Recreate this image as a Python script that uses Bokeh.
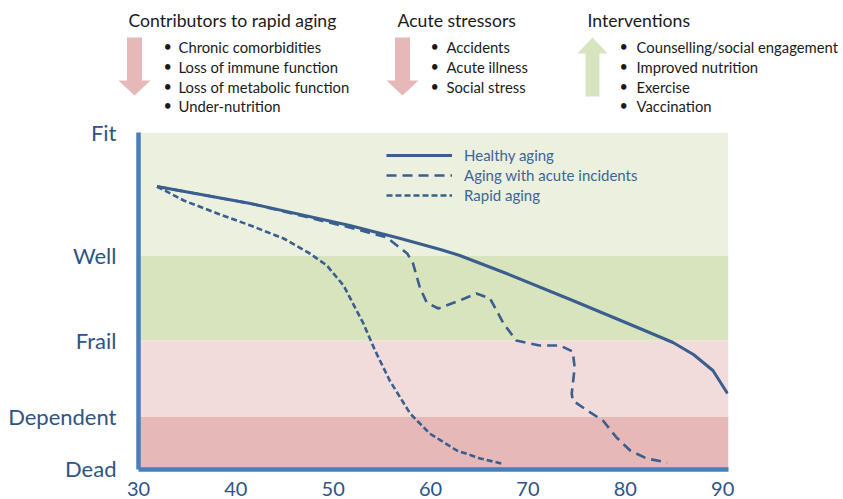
from bokeh.plotting import figure
from bokeh.layouts import column
from bokeh.models import Range1d, BoxAnnotation, Legend, LegendItem, FixedTicker
from bokeh.core.properties import value
from bokeh.embed import file_html
from bokeh.resources import INLINE

# ---------------- data ----------------
levels = ["Dead", "Dependent", "Frail", "Well", "Fit"]
level_values = [0, 52, 128, 213, 336]
band_colors = ["#E6B9B8", "#F2DCDB", "#D7E4BD", "#EBF1DE"]
age_ticks = [30, 40, 50, 60, 70, 80, 90]

healthy_age = [31.9, 41.5, 51.7, 56.9, 61.0, 63.0, 67.8, 74.6, 81.5, 84.9, 87.0, 89.0, 90.5]
healthy_fit = [282, 265, 243, 230, 219, 213, 195, 168, 140, 126, 114, 98, 75]

acute_age = [31.9, 41.5, 51.7, 55.5, 57.6, 58.2, 58.9, 59.6, 60.8, 63.0, 64.7, 66.1,
             67.5, 68.8, 71.2, 73.3, 74.6, 74.8, 74.5, 74.6, 76.1, 77.7, 79.1,
             80.5, 82.2, 84.3]
acute_fit = [282, 265, 241, 231, 215, 205, 181, 166, 160, 168, 175, 170,
             145, 128, 123, 123, 117, 101, 75, 68, 58, 48, 31,
             18, 10, 6]

rapid_age = [31.9, 34.65, 38.1, 41.5, 44.9, 47.6, 49.35, 51.06, 53.1, 54.3, 55.8,
             57.9, 59.9, 62.7, 65.1, 67.3]
rapid_fit = [282, 268, 255, 243, 230, 215, 203, 183, 145, 118, 88,
             55, 35, 18, 10, 5]

series_names = ["Healthy aging", "Aging with acute incidents", "Rapid aging"]

contributors_title = "Contributors to rapid aging"
contributors = ["Chronic comorbidities", "Loss of immune function",
                "Loss of metabolic function", "Under-nutrition"]
stressors_title = "Acute stressors"
stressors = ["Accidents", "Acute illness", "Social stress"]
interventions_title = "Interventions"
interventions = ["Counselling/social engagement", "Improved nutrition",
                 "Exercise", "Vaccination"]

# ---------------- styles ----------------
FONT = "Lato"
LINE_COLOR = "#3A5F8F"
LABEL_COLOR = "#2E5486"
AXIS_COLOR = "#4A7EBB"
PINK = "#E6B9B8"
GREEN = "#D7E4BD"
TEXT = "#1A1A1A"

W = 843
HDR_H = 114
MAIN_H = 499 - HDR_H

# ---------------- header (page-pixel coordinates) ----------------
hdr = figure(width=W, height=HDR_H, x_range=Range1d(0, W), y_range=Range1d(HDR_H, 0),
             output_backend="svg", toolbar_location=None, min_border=0,
             x_axis_location=None, y_axis_location=None)
hdr.grid.visible = False
hdr.outline_line_color = None
hdr.frame_align = False


def down_arrow(cx):
    xs = [cx - 7.5, cx + 7.5, cx + 7.5, cx + 16, cx, cx - 16, cx - 7.5]
    ys = [37, 37, 80, 80, 95, 80, 80]
    return xs, ys


def up_arrow(cx):
    xs = [cx - 7, cx + 7, cx + 7, cx + 15, cx, cx - 15, cx - 7]
    ys = [96, 96, 53, 53, 37, 53, 53]
    return xs, ys


for cx in (134, 402):
    ax, ay = down_arrow(cx)
    hdr.patch(ax, ay, fill_color=PINK, line_color=None)
ax, ay = up_arrow(592)
hdr.patch(ax, ay, fill_color=GREEN, line_color=None)

groups = [
    (contributors_title, contributors, 128, 163, 178),
    (stressors_title, stressors, 397, 430, 446),
    (interventions_title, interventions, 587, 619, 636),
]
row_y = [46, 66, 86, 105]
for title, items, tx, bx, ix in groups:
    hdr.text(x=[tx], y=[20], text=[title], text_font=value(FONT), text_font_size="17.6px",
             text_color=TEXT, text_baseline="middle", text_align="left")
    n = len(items)
    hdr.text(x=[bx] * n, y=row_y[:n], text=["\u2022"] * n, text_font=value(FONT),
             text_font_size="14.5px", text_color=TEXT, text_baseline="middle", text_align="left")
    hdr.text(x=[ix] * n, y=row_y[:n], text=items, text_font=value(FONT),
             text_font_size="14.8px", text_color=TEXT, text_baseline="middle", text_align="left")

# ---------------- main chart ----------------
p = figure(width=W, height=MAIN_H, x_range=Range1d(30, 90.6), y_range=Range1d(-1, 336),
           output_backend="svg", toolbar_location=None,
           min_border_left=138, min_border_right=115, min_border_top=18, min_border_bottom=30)
p.grid.visible = False
p.outline_line_color = None
p.frame_align = False

band_edges = [-1] + level_values[1:]
for i, c in enumerate(band_colors):
    p.add_layout(BoxAnnotation(bottom=band_edges[i], top=band_edges[i + 1], fill_color=c,
                               fill_alpha=1.0, line_color=None, level="underlay"))

r1 = p.line(healthy_age, healthy_fit, line_color=LINE_COLOR, line_width=3, line_join="round")
r2 = p.line(acute_age, acute_fit, line_color=LINE_COLOR, line_width=2.6, line_dash="10 6",
            line_join="round")
r3 = p.line(rapid_age, rapid_fit, line_color=LINE_COLOR, line_width=2.6, line_dash="6 3",
            line_join="round")

legend = Legend(items=[LegendItem(label=series_names[0], renderers=[r1]),
                       LegendItem(label=series_names[1], renderers=[r2]),
                       LegendItem(label=series_names[2], renderers=[r3])],
                location=(248, 265), glyph_width=66, glyph_height=18, label_height=18,
                spacing=2, padding=0, margin=0, label_standoff=12,
                label_text_font=FONT, label_text_font_size="15px", label_text_color="#3E6496",
                background_fill_alpha=0, border_line_alpha=0)
p.add_layout(legend)

p.yaxis.ticker = FixedTicker(ticks=level_values)
p.yaxis.major_label_overrides = {v: l for v, l in zip(level_values, levels)}
p.xaxis.ticker = FixedTicker(ticks=age_ticks)
for ax in (p.xaxis, p.yaxis):
    ax.axis_line_color = AXIS_COLOR
    ax.axis_line_width = 4.5
    ax.major_tick_line_color = None
    ax.minor_tick_line_color = None
    ax.major_label_text_font = FONT
    ax.major_label_text_color = LABEL_COLOR
p.yaxis.major_label_text_font_size = "22px"
p.yaxis.major_label_standoff = 16
p.xaxis.major_label_text_font_size = "20px"
p.xaxis.major_label_standoff = 6

layout = column(hdr, p, spacing=0)
open("out.html", "w").write(file_html(layout, INLINE))
